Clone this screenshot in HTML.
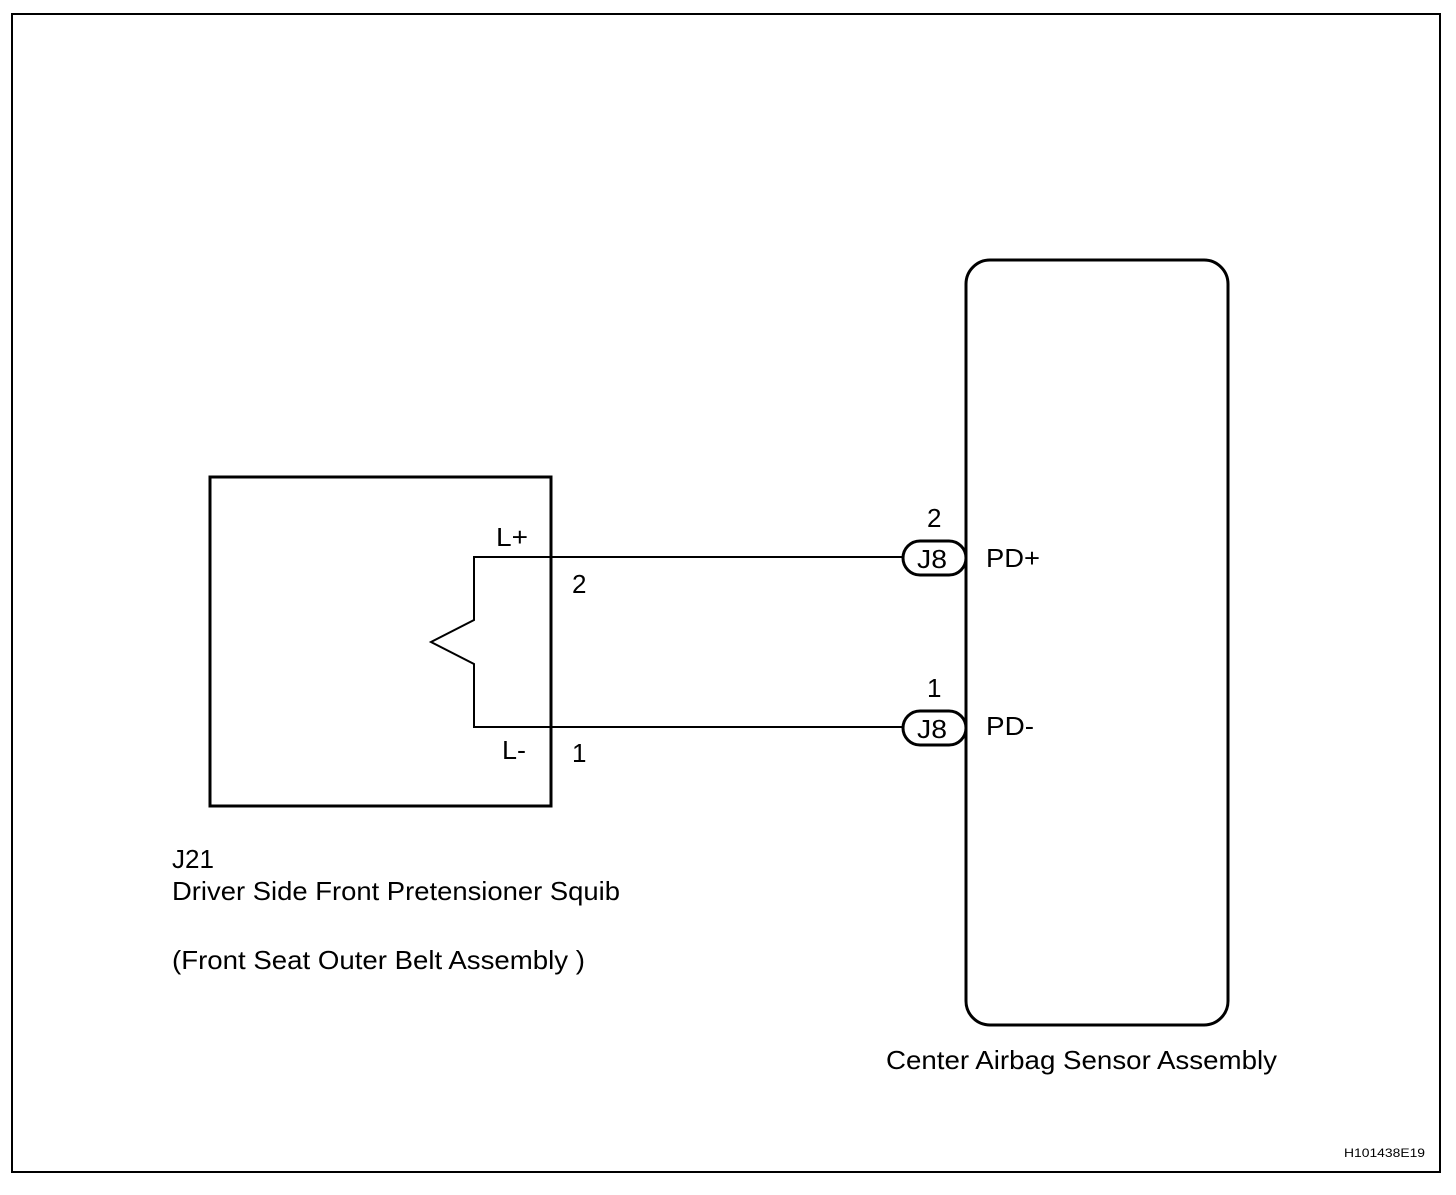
<!DOCTYPE html>
<html><head><style>body{margin:0;background:#fff}</style></head><body>
<svg width="1456" height="1190" xmlns="http://www.w3.org/2000/svg" font-family="Liberation Sans, Arial, sans-serif" fill="none" stroke="#000">
<rect x="12" y="14" width="1428" height="1158" stroke-width="2"/>
<rect x="210" y="477" width="341" height="329" stroke-width="3"/>
<rect x="966" y="260" width="262" height="765" rx="24" stroke-width="3"/>
<polyline points="903,557 474,557 474,620 431,642 474,664 474,727 903,727" stroke-width="2"/>
<rect x="903" y="541" width="63" height="34" rx="17" stroke-width="3"/>
<rect x="903" y="711" width="63" height="34" rx="17" stroke-width="3"/>
<g fill="#000" stroke="none" font-size="26">
<text x="496" y="546" textLength="32" lengthAdjust="spacingAndGlyphs">L+</text>
<text x="502" y="759" textLength="24" lengthAdjust="spacingAndGlyphs">L-</text>
<text x="572" y="593">2</text>
<text x="572" y="762">1</text>
<text x="927" y="527">2</text>
<text x="927" y="697">1</text>
<text x="917" y="568" textLength="30" lengthAdjust="spacingAndGlyphs">J8</text>
<text x="917" y="738" textLength="30" lengthAdjust="spacingAndGlyphs">J8</text>
<text x="986" y="567" textLength="54" lengthAdjust="spacingAndGlyphs">PD+</text>
<text x="986" y="735" textLength="48" lengthAdjust="spacingAndGlyphs">PD-</text>
<text x="172" y="868" textLength="42" lengthAdjust="spacingAndGlyphs">J21</text>
<text x="172" y="900" textLength="448" lengthAdjust="spacingAndGlyphs">Driver Side Front Pretensioner Squib</text>
<text x="172" y="969" textLength="413" lengthAdjust="spacingAndGlyphs">(Front Seat Outer Belt Assembly )</text>
<text x="886" y="1069" textLength="391" lengthAdjust="spacingAndGlyphs">Center Airbag Sensor Assembly</text>
<text x="1344" y="1157" font-size="12" textLength="81" lengthAdjust="spacingAndGlyphs">H101438E19</text>
</g>
</svg>
</body></html>
